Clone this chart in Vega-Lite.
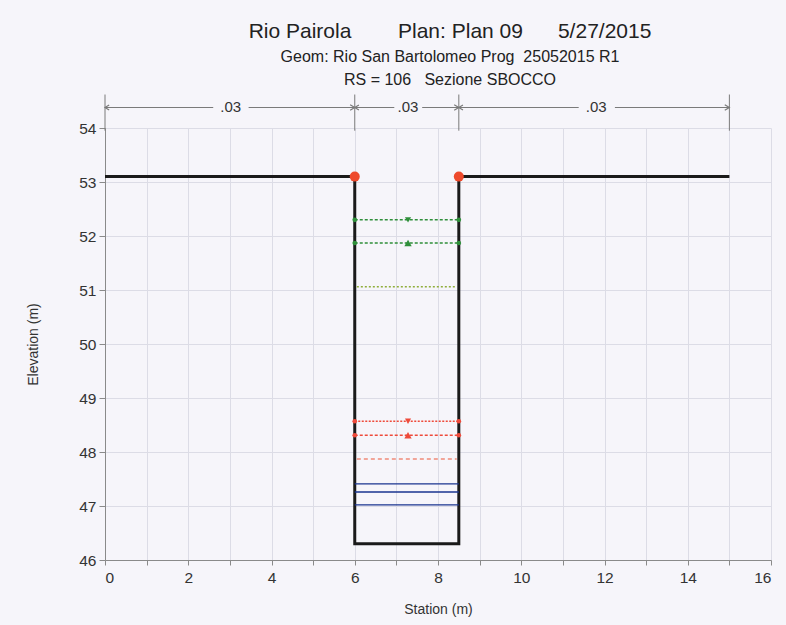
{
  "$schema": "https://vega.github.io/schema/vega-lite/v6.json",
  "autosize": "none",
  "padding": {"left": 105, "top": 128, "right": 15, "bottom": 65},
  "width": 666,
  "height": 432,
  "background": "#f6f5fa",
  "config": {
    "view": {"stroke": null},
    "font": "Liberation Sans",
    "axis": {"labelFont": "Liberation Sans", "titleFont": "Liberation Sans", "labelFontSize": 15.5, "labelColor": "#333333", "titleFontSize": 14, "titleFontWeight": "normal", "titleColor": "#333333", "gridColor": "#dcdce6", "gridOpacity": 1, "domainColor": "#8a8a8a", "tickColor": "#8a8a8a"},
    "title": {"font": "Liberation Sans", "fontSize": 21, "fontWeight": "normal", "color": "#222222", "subtitleFont": "Liberation Sans", "subtitleFontSize": 16, "subtitleColor": "#222222", "subtitleLineHeight": 23, "subtitlePadding": 7, "anchor": "middle", "frame": "group", "offset": 6, "dx": 12}
  },
  "title": {
    "text": "Rio Pairola\u00a0\u00a0\u00a0\u00a0\u00a0\u00a0\u00a0\u00a0Plan: Plan 09\u00a0\u00a0\u00a0\u00a0\u00a0\u00a05/27/2015",
    "subtitle": ["Geom: Rio San Bartolomeo Prog\u00a0\u00a025052015 R1", "RS = 106\u00a0\u00a0\u00a0Sezione SBOCCO"]
  },
  "datasets": {
    "ground": [
      {"order": 1, "station": 0, "elev": 53.1},
      {"order": 2, "station": 6, "elev": 53.1},
      {"order": 3, "station": 6, "elev": 46.3},
      {"order": 4, "station": 8.5, "elev": 46.3},
      {"order": 5, "station": 8.5, "elev": 53.1},
      {"order": 6, "station": 15, "elev": 53.1}
    ],
    "banks": [
      {"station": 6, "elev": 53.1},
      {"station": 8.5, "elev": 53.1}
    ],
    "ws": [
      {"series": "g1", "station": 6, "elev": 52.3}, {"series": "g1", "station": 8.5, "elev": 52.3},
      {"series": "g2", "station": 6, "elev": 51.87}, {"series": "g2", "station": 8.5, "elev": 51.87},
      {"series": "g3", "station": 6.05, "elev": 51.06}, {"series": "g3", "station": 8.45, "elev": 51.06},
      {"series": "r1", "station": 6, "elev": 48.57}, {"series": "r1", "station": 8.5, "elev": 48.57},
      {"series": "r2", "station": 6, "elev": 48.31}, {"series": "r2", "station": 8.5, "elev": 48.31},
      {"series": "r3", "station": 6.05, "elev": 47.87}, {"series": "r3", "station": 8.45, "elev": 47.87},
      {"series": "b1", "station": 6, "elev": 47.41}, {"series": "b1", "station": 8.5, "elev": 47.41},
      {"series": "b2", "station": 6, "elev": 47.26}, {"series": "b2", "station": 8.5, "elev": 47.26},
      {"series": "b3", "station": 6, "elev": 47.02}, {"series": "b3", "station": 8.5, "elev": 47.02}
    ],
    "markers": [
      {"series": "g1", "kind": "end", "station": 6, "elev": 52.3}, {"series": "g1", "kind": "end", "station": 8.5, "elev": 52.3}, {"series": "g1", "kind": "ws", "station": 7.28, "elev": 52.3},
      {"series": "g2", "kind": "end", "station": 6, "elev": 51.87}, {"series": "g2", "kind": "end", "station": 8.5, "elev": 51.87}, {"series": "g2", "kind": "crit", "station": 7.28, "elev": 51.87},
      {"series": "r1", "kind": "end", "station": 6, "elev": 48.57}, {"series": "r1", "kind": "end", "station": 8.5, "elev": 48.57}, {"series": "r1", "kind": "ws", "station": 7.28, "elev": 48.57},
      {"series": "r2", "kind": "end", "station": 6, "elev": 48.31}, {"series": "r2", "kind": "end", "station": 8.5, "elev": 48.31}, {"series": "r2", "kind": "crit", "station": 7.28, "elev": 48.31}
    ],
    "nlines": [
      {"from": 0, "to": 2.6, "elev": 54.38},
      {"from": 3.45, "to": 6, "elev": 54.38},
      {"from": 6, "to": 6.95, "elev": 54.38},
      {"from": 7.62, "to": 8.5, "elev": 54.38},
      {"from": 8.5, "to": 11.38, "elev": 54.38},
      {"from": 12.25, "to": 15, "elev": 54.38}
    ],
    "nticks": [
      {"station": 0, "lo": 53.95, "hi": 54.62},
      {"station": 6, "lo": 53.95, "hi": 54.62},
      {"station": 8.5, "lo": 53.95, "hi": 54.62},
      {"station": 15, "lo": 53.95, "hi": 54.62}
    ],
    "narrows": [
      {"station": 0, "kind": "left", "elev": 54.38},
      {"station": 6, "kind": "right", "elev": 54.38},
      {"station": 6, "kind": "left", "elev": 54.38},
      {"station": 8.5, "kind": "right", "elev": 54.38},
      {"station": 8.5, "kind": "left", "elev": 54.38},
      {"station": 15, "kind": "right", "elev": 54.38}
    ],
    "nlabels": [
      {"station": 3.02, "elev": 54.38, "label": ".03"},
      {"station": 7.28, "elev": 54.38, "label": ".03"},
      {"station": 11.8, "elev": 54.38, "label": ".03"}
    ]
  },
  "layer": [
    {
      "data": {"name": "ground"},
      "mark": {"type": "line", "color": "#1a1a1a", "strokeWidth": 3, "strokeJoin": "miter"},
      "encoding": {
        "x": {"field": "station", "type": "quantitative", "scale": {"domain": [0, 16], "nice": false},
          "axis": {"title": "Station (m)", "values": [0,1,2,3,4,5,6,7,8,9,10,11,12,13,14,15,16], "labelExpr": "datum.value % 2 === 0 ? datum.label : ''", "tickSize": 5, "labelPadding": 5, "titlePadding": 17, "grid": true}},
        "y": {"field": "elev", "type": "quantitative", "scale": {"domain": [46, 54], "nice": false, "zero": false},
          "axis": {"title": "Elevation (m)", "values": [46,46.5,47,47.5,48,48.5,49,49.5,50,50.5,51,51.5,52,52.5,53,53.5,54], "labelExpr": "datum.value % 1 === 0 ? datum.label : ''", "tickSize": {"condition": {"test": "datum.value % 1 === 0", "value": 6}, "value": 3}, "labelPadding": 3, "titlePadding": 38, "grid": true}},
        "order": {"field": "order"}
      }
    },
    {
      "data": {"name": "ws"},
      "mark": {"type": "line"},
      "encoding": {
        "x": {"field": "station", "type": "quantitative"},
        "y": {"field": "elev", "type": "quantitative"},
        "detail": {"field": "series"},
        "color": {"field": "series", "type": "nominal", "legend": null,
          "scale": {"domain": ["g1","g2","g3","r1","r2","r3","b1","b2","b3"], "range": ["#2f8f3a","#2f8f3a","#8fae3a","#ee4a3a","#ee4a3a","#f08a7a","#1a3590","#1a3590","#1a3590"]}},
        "strokeDash": {"field": "series", "type": "nominal", "legend": null,
          "scale": {"domain": ["g1","g2","g3","r1","r2","r3","b1","b2","b3"], "range": [[3,2],[3,2],[2,2],[2,1.5],[3,2],[4,3],[1,0],[1,0],[1,0]]}},
        "strokeWidth": {"field": "series", "type": "nominal", "legend": null,
          "scale": {"domain": ["g1","g2","g3","r1","r2","r3","b1","b2","b3"], "range": [1.4,1.4,1.4,1.4,1.1,1.1,3.2,3.2,3.2]}}
      }
    },
    {
      "data": {"name": "markers"},
      "mark": {"type": "point", "filled": true, "opacity": 1},
      "encoding": {
        "x": {"field": "station", "type": "quantitative"},
        "y": {"field": "elev", "type": "quantitative"},
        "color": {"field": "series", "type": "nominal", "legend": null},
        "shape": {"field": "kind", "type": "nominal", "legend": null, "scale": {"domain": ["end","ws","crit","left","right"], "range": ["circle","triangle-down","triangle-up","M 1 -0.6 L 0 0 L 1 0.6","M -1 -0.6 L 0 0 L -1 0.6"]}},
        "size": {"field": "kind", "type": "nominal", "legend": null, "scale": {"domain": ["end","ws","crit","left","right"], "range": [22,85,85,70,70]}}
      }
    },
    {
      "data": {"name": "banks"},
      "mark": {"type": "circle", "color": "#ee4a2c", "size": 100, "opacity": 1},
      "encoding": {
        "x": {"field": "station", "type": "quantitative"},
        "y": {"field": "elev", "type": "quantitative"}
      }
    },
    {
      "data": {"name": "nlines"},
      "mark": {"type": "rule", "color": "#7a7a7a", "strokeWidth": 1.2},
      "encoding": {
        "x": {"field": "from", "type": "quantitative"},
        "x2": {"field": "to"},
        "y": {"field": "elev", "type": "quantitative"}
      }
    },
    {
      "data": {"name": "nticks"},
      "mark": {"type": "rule", "color": "#7a7a7a", "strokeWidth": 1},
      "encoding": {
        "x": {"field": "station", "type": "quantitative"},
        "y": {"field": "lo", "type": "quantitative"},
        "y2": {"field": "hi"}
      }
    },
    {
      "data": {"name": "narrows"},
      "mark": {"type": "point", "filled": false, "color": "#7a7a7a", "strokeWidth": 1.2, "opacity": 1},
      "encoding": {
        "x": {"field": "station", "type": "quantitative"},
        "y": {"field": "elev", "type": "quantitative"},
        "shape": {"field": "kind", "type": "nominal", "legend": null},
        "size": {"field": "kind", "type": "nominal", "legend": null}
      }
    },
    {
      "data": {"name": "nlabels"},
      "mark": {"type": "text", "fontSize": 15, "color": "#333333", "baseline": "middle", "align": "center"},
      "encoding": {
        "x": {"field": "station", "type": "quantitative"},
        "y": {"field": "elev", "type": "quantitative"},
        "text": {"field": "label"}
      }
    }
  ]
}
